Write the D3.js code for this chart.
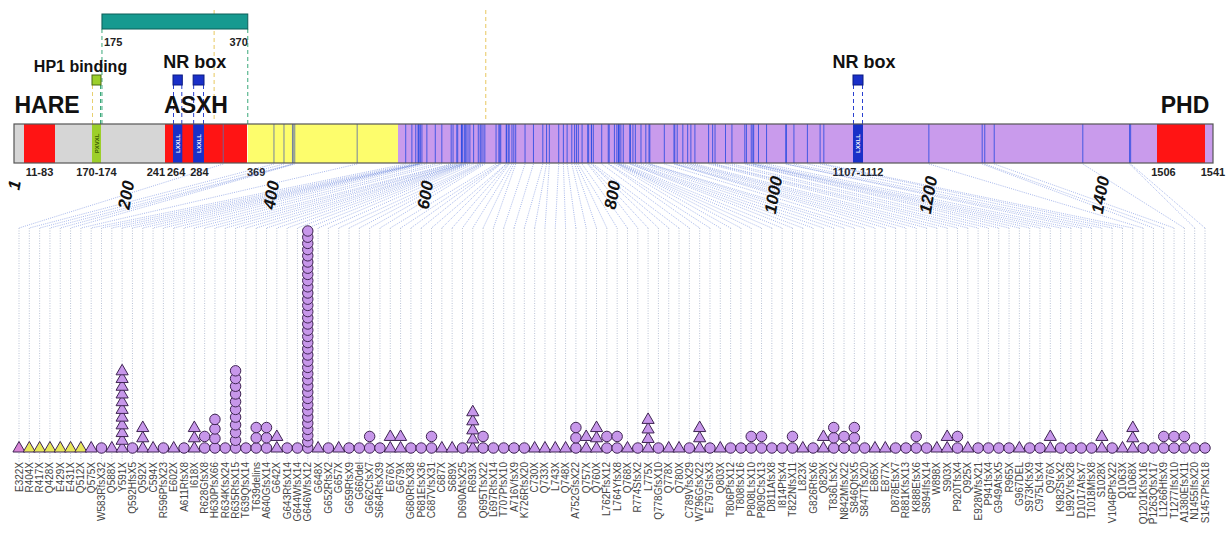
<!DOCTYPE html>
<html>
<head>
<meta charset="utf-8">
<script src="https://cdn.jsdelivr.net/npm/d3@7"></script>
<style>
  body { margin: 0; background: #fff; }
</style>
</head>
<body>
<div id="chart"></div>
<script>
const WIDTH = 1230;
const HEIGHT = 541;

// ---- data ----
const mutations = [
  "E322X", "R404X", "R417X", "Q428X", "E429X", "E431X", "Q512X", "Q575X", "W583RfsX32", "Q588X",
  "Y591X", "Q592HfsX5", "Q592X", "C594X", "R596PfsX23", "E602X", "A611RfsX8", "I618X", "R628GfsX8", "H630PfsX66",
  "R634KfsX24", "R635RfsX15", "T639QfsX14", "T639delins", "A640GfsX14", "G642X", "G643RfsX14", "G644WfsX14", "G646WfsX12", "G648X",
  "G652RfsX2", "G657X", "G659RfsX9", "G660del", "G662CfsX7", "S664RfsX39", "E676X", "G679X", "G680RfsX38", "P681EfsX36",
  "C687VfsX31", "C687X", "S689X", "D690AfsX25", "R693X", "Q695TfsX22", "L697RfsX14", "T707PfsX10", "A716VfsX9", "K726RfsX20",
  "C730X", "Q733X", "L743X", "Q748X", "A752GfsX22", "Q757X", "Q760X", "L762FfsX12", "L764YfsX8", "Q768X",
  "R774SfsX2", "L775X", "Q778GfsX10", "Q778X", "Q780X", "C789VfsX29", "W796GfsX22", "E797GfsX3", "Q803X", "T806PfsX12",
  "T808fsX16", "P808LfsX10", "P809CfsX13", "D811AfsX8", "I814PfsX4", "T822NfsX11", "L823X", "G826RfsX6", "Q829X", "T836LfsX2",
  "N842MfsX22", "S846QfsX5", "S847TfsX20", "E865X", "E877X", "D878EfsX7", "R881KfsX13", "K888EfsX6", "S894IfsX14", "W898X",
  "S903X", "P920TfsX4", "Q925X", "E928WfsX21", "P941fsX4", "G949AfsX5", "R965X", "G967DEL", "S973KfsX9", "C975LfsX4",
  "Q976X", "K982SfsX2", "L992VfsX28", "D1017AfsX7", "T1018MfsX8", "S1028X", "V1046PfsX22", "Q1063X", "R1068X", "Q1201KfsX16",
  "P1263QfsX17", "L1266HfsX9", "T1277IfsX10", "A1380EfsX11", "N1455IfsX20", "S1457PfsX18"
];
// number of patients per mutation (stack height)
const counts = [
  1, 1, 1, 1, 1, 1, 1, 1, 1, 1,
  11, 1, 3, 1, 1, 1, 1, 3, 2, 4,
  1, 11, 1, 3, 3, 2, 1, 1, 36, 1,
  1, 1, 1, 1, 2, 1, 2, 2, 1, 1,
  2, 1, 1, 1, 5, 2, 1, 1, 1, 1,
  1, 1, 1, 1, 3, 2, 3, 2, 2, 1,
  1, 4, 1, 1, 1, 1, 3, 1, 1, 1,
  1, 2, 2, 1, 1, 2, 1, 1, 2, 3,
  2, 3, 1, 1, 1, 1, 1, 2, 1, 1,
  2, 2, 1, 1, 1, 1, 1, 1, 1, 1,
  2, 1, 1, 1, 1, 2, 1, 1, 3, 1,
  1, 2, 2, 2, 1, 1
];
// t = triangle, c = circle
const shapeList = [
  "t","t","t","t","t","t","t","t","c","t",
  "t","c","t","t","c","t","c","t","c","c",
  "c","c","c","c","c","t","c","c","c","t",
  "c","t","c","c","c","c","t","t","c","c",
  "c","t","t","c","t","c","c","c","c","c",
  "t","t","t","t","c","t","t","c","c","t",
  "c","t","c","t","t","c","t","c","t","c",
  "c","c","c","c","c","c","t","c","t","c",
  "c","c","c","t","t","c","c","c","c","t",
  "t","c","t","c","c","c","c","t","c","c",
  "t","c","c","c","c","t","c","t","t","c",
  "c","c","c","c","c","c"
];

// protein: 1541 aa, segments of the bar
const segNames = ["N-term", "HARE", "PxVxL", "ASXH", "LXXLL", "LXXLL", "mid", "C-term", "LXXLL", "PHD"];
const segStart = [1, 11, 170, 241, 264, 277, 370, 565, 1107, 1506];
const segEnd = [241, 83, 174, 369, 270, 284, 565, 1541, 1112, 1536];

const barLabels = ["11-83", "170-174", "241", "264", "284", "369", "1107-1112", "1506", "1541"];
const barLabelPos = [47, 172, 241, 266, 281, 369, 1109.5, 1510, 1541];

const axisTicks = [1, 200, 400, 600, 800, 1000, 1200, 1400];
const bindingRange = [175, 370];
const guidePos = [304, 665];

// ---- layout ----
const BAR_TOP = 124, BAR_BOT = 163;
const COL_TOP = 228, COL_BOT = 462, BASE = 448;

const colors = {
  "N-term": "#d6d6d6", "HARE": "#ff1414", "PxVxL": "#9ccf2a", "ASXH": "#ff1414",
  "LXXLL": "#1a30c8", "mid": "#fdfd6c", "C-term": "#c99bec", "PHD": "#ff1414"
};

// the diagram is not drawn to scale, so the aa -> px map is piecewise
const x = d3.scaleLinear()
  .domain([1, 11, 83, 170, 174, 241, 264, 284, 369, 565, 600, 800, 1000, 1107, 1112, 1200, 1400, 1506, 1541])
  .range([14, 24, 55, 92, 101, 165, 173, 204, 247, 398, 425, 612, 773, 853, 863, 928, 1100, 1157, 1213]);

const col = d3.scalePoint()
  .domain(d3.range(mutations.length))
  .range([19, 1205]);

// tall stacks get squeezed
const stackH = d3.scalePow().exponent(0.825).domain([0, 35]).range([0, 217]);

const posOf = (m) => +m.match(/\d+/)[0];
const markerFill = (p) => p <= 369 ? "#d884d6" : p < 565 ? "#e8e85a" : "#c797ea";

const SVG = d3.select('#chart')
  .append('svg')
  .attr('width', WIDTH)
  .attr('height', HEIGHT)
  .style('font-family', 'Arial, "Liberation Sans", sans-serif');

// guides (drawn first so boxes cover them)
SVG.selectAll('.guide')
  .data(guidePos)
  .enter()
  .append('line')
  .attr('x1', d => x(d)).attr('x2', d => x(d))
  .attr('y1', 10).attr('y2', BAR_TOP - 4)
  .attr('stroke', '#e8c860')
  .attr('stroke-width', 1)
  .attr('stroke-dasharray', '4,3');

// binding region (teal bar)
SVG.selectAll('.bind-guide')
  .data(bindingRange)
  .enter()
  .append('line')
  .attr('x1', d => x(d)).attr('x2', d => x(d))
  .attr('y1', 29).attr('y2', BAR_TOP)
  .attr('stroke', '#3aa87a')
  .attr('stroke-dasharray', '4,3');

SVG.append('rect')
  .attr('x', x(bindingRange[0]))
  .attr('y', 14)
  .attr('width', x(bindingRange[1]) - x(bindingRange[0]))
  .attr('height', 15)
  .attr('fill', '#179a90')
  .attr('stroke', '#0d5e58');

SVG.selectAll('.bind-label')
  .data(bindingRange)
  .enter()
  .append('text')
  .attr('x', (d, i) => i === 0 ? x(d) + 2 : x(d))
  .attr('y', 46)
  .attr('text-anchor', (d, i) => i === 0 ? 'start' : 'end')
  .style('font-size', '11px')
  .style('font-weight', 'bold')
  .attr('fill', '#222')
  .text(d => d);

// motif boxes above the bar (HP1 binding + NR boxes)
const motifs = segNames.map((n, i) => i).filter(i => segNames[i] === 'PxVxL' || segNames[i] === 'LXXLL');
motifs.forEach(i => {
  const x0 = x(segStart[i]), x1 = x(segEnd[i]);
  const dashCol = segNames[i] === 'PxVxL' ? ['#e8d070', '#3aa87a'] : ['#2a40d0', '#2a40d0'];
  [x0, x1].forEach((xx, j) => {
    SVG.append('line')
      .attr('x1', xx + (j ? -0.5 : 0.5)).attr('x2', xx + (j ? -0.5 : 0.5))
      .attr('y1', 85).attr('y2', BAR_TOP)
      .attr('stroke', dashCol[j])
      .attr('stroke-dasharray', '4,3');
  });
  SVG.append('rect')
    .attr('x', x0).attr('y', 75)
    .attr('width', x1 - x0).attr('height', 10)
    .attr('fill', colors[segNames[i]])
    .attr('stroke', segNames[i] === 'PxVxL' ? '#4a6a10' : '#0a1a80');
});

// annotation text
const annot = [
  { t: 'HP1 binding', x: x(172) - 16, y: 72, s: 16 },
  { t: 'NR box', x: x(278), y: 68, s: 18 },
  { t: 'NR box', x: x(1109.5) + 6, y: 68, s: 18 },
  { t: 'HARE', x: 47, y: 113, s: 23 },
  { t: 'ASXH', x: x(284) - 8, y: 113, s: 23 },
  { t: 'PHD', x: x(1506) + 28, y: 113, s: 23 }
];
SVG.selectAll('.annot')
  .data(annot)
  .enter()
  .append('text')
  .attr('x', d => d.x)
  .attr('y', d => d.y)
  .attr('text-anchor', 'middle')
  .style('font-size', d => d.s + 'px')
  .style('font-weight', 'bold')
  .attr('fill', '#111')
  .text(d => d.t);

// protein bar
SVG.selectAll('.seg')
  .data(segNames)
  .enter()
  .append('rect')
  .attr('x', (d, i) => x(segStart[i]))
  .attr('y', BAR_TOP)
  .attr('width', (d, i) => x(segEnd[i]) - x(segStart[i]))
  .attr('height', BAR_BOT - BAR_TOP)
  .attr('fill', d => colors[d]);

// mutation positions inside the bar
const positions = mutations.map(posOf);
SVG.selectAll('.mutline')
  .data(positions)
  .enter()
  .append('line')
  .attr('x1', d => x(d)).attr('x2', d => x(d))
  .attr('y1', BAR_TOP).attr('y2', BAR_BOT)
  .attr('stroke', d => d < 565 ? '#6070a8' : '#2e4ee2')
  .attr('stroke-width', 1)
  .attr('opacity', 0.85);

// motif labels inside the bar
motifs.forEach(i => {
  const cx = (x(segStart[i]) + x(segEnd[i])) / 2;
  SVG.append('text')
    .attr('transform', `translate(${cx + 2},${(BAR_TOP + BAR_BOT) / 2}) rotate(-90)`)
    .attr('text-anchor', 'middle')
    .style('font-size', '6px')
    .style('font-weight', 'bold')
    .attr('fill', segNames[i] === 'PxVxL' ? '#3a5a00' : '#fff')
    .text(segNames[i] === 'PxVxL' ? 'PXVXL' : 'LXXLL');
});

SVG.append('rect')
  .attr('x', x(1)).attr('y', BAR_TOP)
  .attr('width', x(1541) - x(1)).attr('height', BAR_BOT - BAR_TOP)
  .attr('fill', 'none')
  .attr('stroke', '#555')
  .attr('stroke-width', 1.2);

// numbers under the bar
SVG.selectAll('.barlab')
  .data(barLabels)
  .enter()
  .append('text')
  .attr('x', (d, i) => x(barLabelPos[i]))
  .attr('y', 176)
  .attr('text-anchor', d => d === '241' ? 'end' : d === '369' ? 'start' : 'middle')
  .style('font-family', '"Liberation Sans Narrow", "Arial Narrow", Arial, sans-serif')
  .style('font-size', '11px')
  .style('font-weight', 'bold')
  .attr('fill', '#222')
  .text(d => d);

// fan of connectors from the bar to the columns
SVG.selectAll('.fan')
  .data(mutations)
  .enter()
  .append('line')
  .attr('x1', (d, i) => x(positions[i]))
  .attr('y1', BAR_BOT + 1)
  .attr('x2', (d, i) => col(i))
  .attr('y2', COL_TOP)
  .attr('stroke', '#4a6cd8')
  .attr('stroke-width', 0.8)
  .attr('stroke-dasharray', '1,1.2')
  .attr('opacity', 0.6);

// vertical columns
SVG.selectAll('.col')
  .data(mutations)
  .enter()
  .append('line')
  .attr('x1', (d, i) => col(i)).attr('x2', (d, i) => col(i))
  .attr('y1', COL_TOP).attr('y2', COL_BOT)
  .attr('stroke', '#a8b4cc')
  .attr('stroke-width', 0.8)
  .attr('stroke-dasharray', '1,1.5');

// axis numbers (rotated, italic)
SVG.selectAll('.tick')
  .data(axisTicks)
  .enter()
  .append('text')
  .attr('transform', d => `translate(${x(d) + 6},${d === 1 ? 186 : 196}) rotate(-80)`)
  .attr('text-anchor', 'middle')
  .style('font-size', '17px')
  .style('font-weight', 'bold')
  .style('font-style', 'italic')
  .attr('fill', '#111')
  .text(d => d);

// stacked markers
const markers = [];
mutations.forEach((m, i) => {
  const n = counts[i];
  const h = n > 1 ? stackH(n - 1) : 0;
  for (let k = 0; k < n; k++) {
    markers.push({ i, shape: shapeList[i], y: BASE - (n > 1 ? h * k / (n - 1) : 0), fill: markerFill(positions[i]) });
  }
});

const tri = d3.symbol().type(d3.symbolTriangle).size(64);
const circ = d3.symbol().type(d3.symbolCircle).size(86);

SVG.selectAll('.mk')
  .data(markers)
  .enter()
  .append('path')
  .attr('d', d => d.shape === 't' ? tri() : circ())
  .attr('transform', d => `translate(${col(d.i)},${d.shape === 't' ? d.y + 0.5 : d.y})`)
  .attr('fill', d => d.fill)
  .attr('stroke', '#3e2452')
  .attr('stroke-width', 1);

// mutation names
SVG.selectAll('.mlab')
  .data(mutations)
  .enter()
  .append('text')
  .attr('transform', (d, i) => `translate(${col(i)},${COL_BOT}) rotate(-90)`)
  .attr('dy', '0.35em')
  .attr('text-anchor', 'end')
  .style('font-size', '10px')
  .attr('fill', '#444')
  .text(d => d);
</script>
</body>
</html>
